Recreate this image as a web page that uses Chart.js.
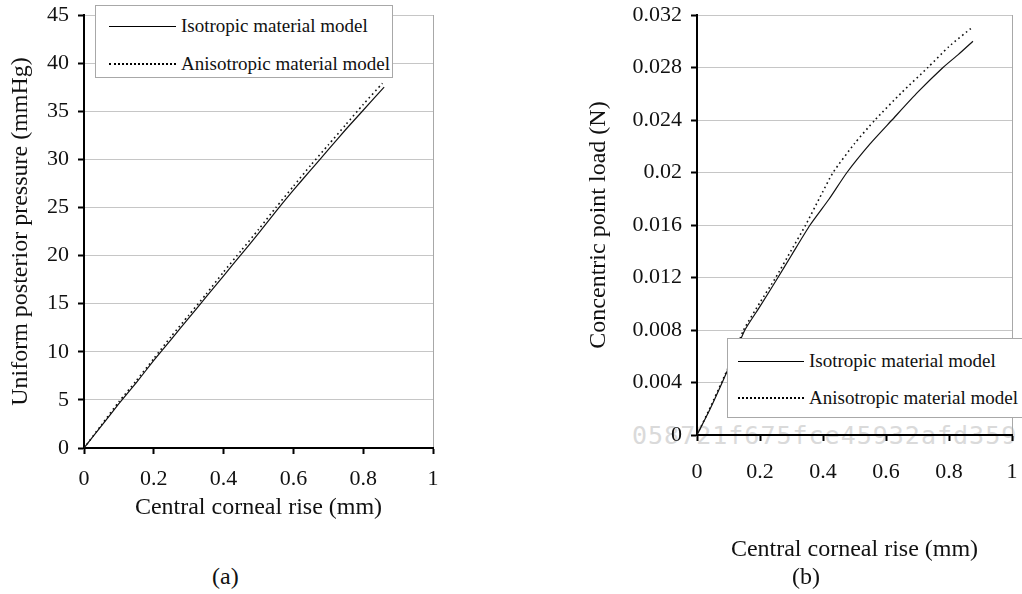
<!DOCTYPE html>
<html><head><meta charset="utf-8">
<script src="https://cdn.jsdelivr.net/npm/chart.js@4.4.0/dist/chart.umd.min.js"></script>
<style>
body{margin:0;background:#fff;width:1022px;height:594px;overflow:hidden;position:relative;font-family:'Liberation Serif','Times New Roman',serif;color:#111}
.wrap{position:absolute;z-index:1}
.legend{position:absolute;background:#fff;border:1px solid #a8a8a8;box-sizing:border-box;z-index:2}
.item{position:absolute;height:24px;display:flex;align-items:center;font-size:19px;white-space:nowrap}
.sw{display:inline-block;height:0;margin-right:5px}
.wm{position:absolute;z-index:0;left:632px;top:421px;font-family:'DejaVu Sans Mono',monospace;font-size:25px;letter-spacing:1px;color:#dadada;white-space:nowrap;line-height:29px}
.cap{position:absolute;font-size:24px;z-index:1}
</style>
</head><body>
<div class="wm" id="wm"></div>
<div class="wrap" style="left:0;top:0;width:450px;height:530px"><canvas id="ca" width="450" height="530"></canvas></div>
<div class="wrap" style="left:580px;top:0;width:442px;height:570px"><canvas id="cb" width="442" height="570"></canvas></div>
<div class="legend" id="legA" style="left:95px;top:5px;width:298px;height:73px"></div>
<div class="legend" id="legB" style="left:727px;top:338px;width:300px;height:80px"></div>
<div class="cap" id="capA" style="left:212px;top:563px"></div>
<div class="cap" id="capB" style="left:792px;top:563px"></div>
<script>
// ---- data ----
const seriesNames = ['Isotropic material model', 'Anisotropic material model'];
const xTitle = 'Central corneal rise (mm)';
const yTitleA = 'Uniform posterior pressure (mmHg)';
const yTitleB = 'Concentric point load (N)';
const captions = ['(a)', '(b)'];
const watermark = '058721f675fce45932afd359';

// chart (a)
const xIsoA   = [0, 0.05, 0.1, 0.15, 0.2, 0.25, 0.3, 0.35, 0.4, 0.45, 0.5, 0.55, 0.6, 0.65, 0.7, 0.75, 0.8, 0.86];
const yIsoA   = [0, 2.3, 4.6, 6.8, 9.1, 11.3, 13.5, 15.7, 17.9, 20.1, 22.3, 24.6, 26.8, 28.9, 31.0, 33.1, 35.1, 37.5];
const xAniA   = [0, 0.05, 0.1, 0.15, 0.2, 0.25, 0.3, 0.35, 0.4, 0.45, 0.5, 0.55, 0.6, 0.65, 0.7, 0.75, 0.8, 0.855];
const yAniA   = [0, 2.4, 4.8, 7.0, 9.3, 11.6, 13.8, 16.0, 18.3, 20.5, 22.7, 25.0, 27.2, 29.4, 31.5, 33.6, 35.7, 37.9];

// chart (b)
const xIsoB = [0, 0.04, 0.08, 0.12, 0.152, 0.2, 0.257, 0.3, 0.359, 0.42, 0.476, 0.55, 0.619, 0.7, 0.781, 0.83, 0.876];
const yIsoB = [0, 0.0019, 0.004, 0.0062, 0.008, 0.0098, 0.012, 0.0137, 0.016, 0.018, 0.020, 0.0222, 0.024, 0.0261, 0.028, 0.029, 0.030];
const xAniB = [0, 0.04, 0.078, 0.12, 0.148, 0.2, 0.25, 0.3, 0.345, 0.39, 0.432, 0.5, 0.565, 0.65, 0.733, 0.8, 0.876];
const yAniB = [0, 0.002, 0.004, 0.0063, 0.008, 0.0101, 0.012, 0.0141, 0.016, 0.0181, 0.020, 0.0222, 0.024, 0.0261, 0.028, 0.0296, 0.0311];

const xTicks = [0, 0.2, 0.4, 0.6, 0.8, 1];
const yTicksA = [0, 5, 10, 15, 20, 25, 30, 35, 40, 45];
const yTicksB = [0, 0.004, 0.008, 0.012, 0.016, 0.02, 0.024, 0.028, 0.032];

// ---- helpers ----
const FONT = "'Liberation Serif', 'Times New Roman', serif";
const pts = (xs, ys) => xs.map((x, i) => ({x: x, y: ys[i]}));
const fmt = v => String(Number(v.toFixed(3)));

function makeChart(id, cfg) {
  const ds = [
    {label: seriesNames[0], data: pts(cfg.xi, cfg.yi), borderColor: '#111', borderWidth: 1.2, pointRadius: 0, showLine: true, tension: 0.2, fill: false},
    {label: seriesNames[1], data: pts(cfg.xa, cfg.ya), borderColor: '#111', borderWidth: 1.6, borderDash: [1.6, 3.2], pointRadius: 0, showLine: true, tension: 0.2, fill: false}
  ];
  return new Chart(document.getElementById(id), {
    type: 'scatter',
    data: {datasets: ds},
    options: {
      responsive: false, animation: false, devicePixelRatio: 1,
      layout: {padding: {top: 15, right: cfg.padRight, left: 0, bottom: 0}},
      plugins: {legend: {display: false}, tooltip: {enabled: false}},
      scales: {
        x: {
          type: 'linear', min: 0, max: 1,
          afterBuildTicks: s => { s.ticks = xTicks.map(v => ({value: v})); },
          afterFit: s => { s.height = cfg.xHeight; s.paddingLeft = 0; s.paddingRight = 0; },
          ticks: {callback: v => fmt(v), font: {family: FONT, size: 22}, color: '#111', padding: cfg.xTickPad, maxRotation: 0},
          grid: {color: c => (c.tick && c.tick.value === 1) ? '#a8a8a8' : 'rgba(0,0,0,0)', tickColor: '#000', tickLength: 6, tickWidth: 2, lineWidth: 1},
          border: {color: '#000', width: 2},
          title: {display: true, text: xTitle, font: {family: FONT, size: 24}, color: '#111', padding: {top: 0, bottom: cfg.xTitlePad}}
        },
        y: {
          type: 'linear', min: 0, max: cfg.yMax,
          afterBuildTicks: s => { s.ticks = cfg.yTicks.map(v => ({value: v})); },
          afterFit: s => { s.width = cfg.yWidth; s.paddingTop = 0; s.paddingBottom = 0; },
          ticks: {callback: v => fmt(v), font: {family: FONT, size: 22}, color: '#111', padding: 9},
          grid: {color: '#c6c6c6', tickColor: '#000', tickLength: 6, tickWidth: 2, lineWidth: 1},
          border: {color: '#000', width: 2},
          title: {display: true, text: cfg.yTitle, font: {family: FONT, size: 24}, color: '#111', padding: {top: cfg.yTitlePad, bottom: 0}}
        }
      }
    }
  });
}

makeChart('ca', {xi: xIsoA, yi: yIsoA, xa: xAniA, ya: yAniA, yMax: 45, yTicks: yTicksA, yTitle: yTitleA,
  padRight: 17, xHeight: 82, yWidth: 84, xTickPad: 12, xTitlePad: 8, yTitlePad: 6});
makeChart('cb', {xi: xIsoB, yi: yIsoB, xa: xAniB, ya: yAniB, yMax: 0.032, yTicks: yTicksB, yTitle: yTitleB,
  padRight: 10, xHeight: 135, yWidth: 117, xTickPad: 18, xTitlePad: 6, yTitlePad: 4});

// ---- legends, captions, watermark ----
function buildLegend(id, items) {
  const el = document.getElementById(id);
  items.forEach((it, i) => {
    const d = document.createElement('div');
    d.className = 'item';
    d.style.left = it.left + 'px';
    d.style.top = (it.cy - 12) + 'px';
    const sw = document.createElement('span');
    sw.className = 'sw';
    sw.style.width = it.w + 'px';
    sw.style.borderTop = i === 0 ? '1px solid #000' : '2px dotted #000';
    const t = document.createElement('span');
    t.textContent = seriesNames[i];
    d.appendChild(sw); d.appendChild(t);
    el.appendChild(d);
  });
}
buildLegend('legA', [{left: 13, cy: 20, w: 67}, {left: 13, cy: 58, w: 67}]);
buildLegend('legB', [{left: 10, cy: 22, w: 66}, {left: 10, cy: 59, w: 66}]);
document.getElementById('capA').textContent = captions[0];
document.getElementById('capB').textContent = captions[1];
document.getElementById('wm').textContent = watermark;
</script>
</body></html>
